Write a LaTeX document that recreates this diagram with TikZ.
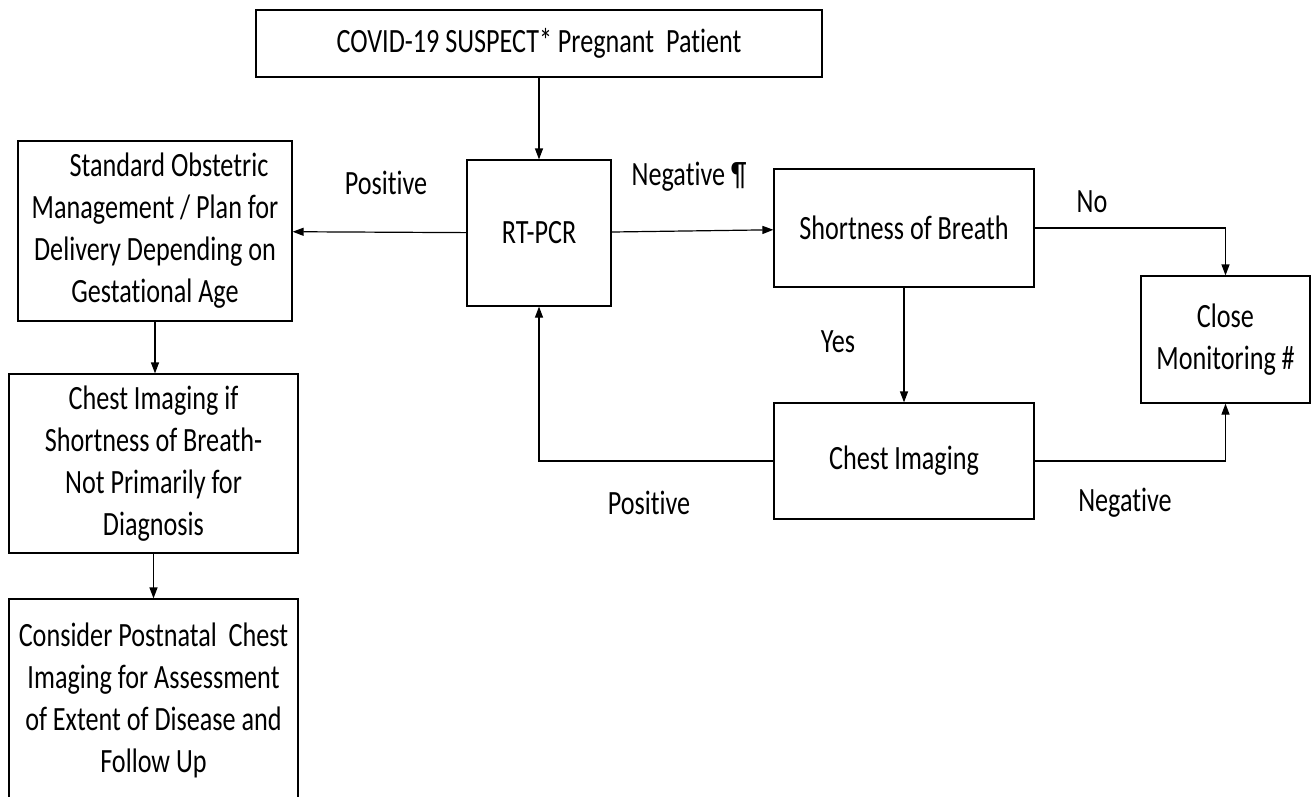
\documentclass[tikz,border=0pt]{standalone}
\usepackage{fontspec}
\setmainfont{Carlito}[FakeStretch=0.77,Ligatures=NoCommon]
\usetikzlibrary{arrows.meta,positioning}

\tikzset{
  box/.style={draw,line width=1.2pt,align=center,inner sep=0pt,
    font=\fontsize{34pt}{42pt}\selectfont},
  lbl/.style={font=\fontsize{34pt}{42pt}\selectfont},
  flow/.style={line width=1.2pt,-{Triangle[length=11pt,width=8pt]}},
}

\begin{document}
\begin{tikzpicture}[x=1pt,y=-1pt]
  \useasboundingbox (0,0) rectangle (1314,796);
  \clip (0,0) rectangle (1314,796);
  % main column
  \node [box,minimum width=566pt,minimum height=67pt]
    at (539,43.5) (suspect) {COVID-19 SUSPECT* Pregnant\ \ Patient};
  \node [box,minimum width=144pt,minimum height=146pt]
    at (539,233) (rtpcr) {RT-PCR};
  \node [box,minimum width=260pt,minimum height=118pt]
    at (904,228) (breath) {Shortness of Breath};
  \node [box,minimum width=260pt,minimum height=116pt]
    at (904,461) (imaging) {Chest Imaging};
  \node [box,minimum width=169pt,minimum height=127pt]
    at (1225.5,339.5) (monitor) {Close\\Monitoring\,\#};
  % positive column
  \node [box,minimum width=274pt,minimum height=180pt]
    at (155,231) (obstetric)
    {\hspace*{28pt}Standard Obstetric\\Management / Plan for\\Delivery Depending on\\Gestational Age};
  \node [box,minimum width=289pt,minimum height=179pt]
    at (153.5,463.5) (ifbreath)
    {Chest Imaging if\\Shortness of Breath-\\Not Primarily for\\Diagnosis};
  \node [box,minimum width=289pt,minimum height=202pt]
    at (153.5,700) (postnatal)
    {Consider Postnatal\ \ Chest\\Imaging for Assessment\\of Extent of Disease and\\Follow Up};
  % arrows
  \draw [flow] (suspect) -- (rtpcr);
  \draw [flow] (rtpcr) -- (obstetric);
  \draw [flow] (rtpcr) -- (breath);
  \draw [flow] (breath) -| (monitor);
  \draw [flow] (breath) -- (imaging);
  \draw [flow] (imaging) -| (monitor);
  \draw [flow] (imaging) -| (rtpcr);
  \draw [flow] (obstetric) -- (obstetric |- ifbreath.north);
  \draw [flow] (ifbreath) -- (postnatal);
  % labels
  \node [lbl] at (386,183) (pos1) {Positive};
  \node [lbl] at (689,177) (neg1) {Negative ¶};
  \node [lbl] at (1092,202) (no) {No};
  \node [lbl] at (838,342) (yes) {Yes};
  \node [lbl] at (649,503) (pos2) {Positive};
  \node [lbl] at (1125,503) (neg2) {Negative};
\end{tikzpicture}
\end{document}
